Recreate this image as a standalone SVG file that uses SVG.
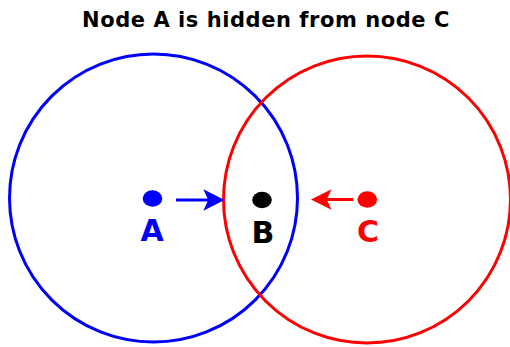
<svg xmlns="http://www.w3.org/2000/svg" width="510" height="347" viewBox="0 0 510 347">
<style>
.t{font-family:"DejaVu Sans",sans-serif;font-weight:bold;text-anchor:middle}
.lbl{font-size:30px}
.ring{fill:none;stroke-width:3}
</style>
<rect width="510" height="347" fill="#fff"/>
<text class="t" x="266" y="27.3" font-size="21" letter-spacing="0.55">Node A is hidden from node C</text>
<g id="rangeA"><circle class="ring" cx="153.5" cy="198" r="144" stroke="#00f"/></g>
<g id="rangeC"><circle class="ring" cx="367" cy="199.5" r="143.5" stroke="#f00"/></g>
<g id="nodeA"><ellipse cx="152.5" cy="198.5" rx="9.8" ry="8.3" fill="#00f"/><text class="t lbl" x="152" y="241" fill="#00f">A</text></g>
<g id="nodeB"><ellipse cx="262" cy="200" rx="9.8" ry="8.3" fill="#000"/><text class="t lbl" x="263" y="243" fill="#000">B</text></g>
<g id="nodeC"><ellipse cx="367.3" cy="199.5" rx="9.8" ry="8.3" fill="#f00"/><text class="t lbl" x="368" y="242" fill="#f00">C</text></g>
<g id="connectors">
<line x1="176" y1="200" x2="210" y2="200" stroke="#00f" stroke-width="3"/>
<path d="M224.5,200 L203.3,189.3 L208.3,200 L203.3,210.7 Z" fill="#00f"/>
<line x1="353.3" y1="199.5" x2="322" y2="199.5" stroke="#f00" stroke-width="3"/>
<path d="M311,199.5 L331.5,189.3 L326.7,199.5 L331.5,209.7 Z" fill="#f00"/>
</g>
</svg>
